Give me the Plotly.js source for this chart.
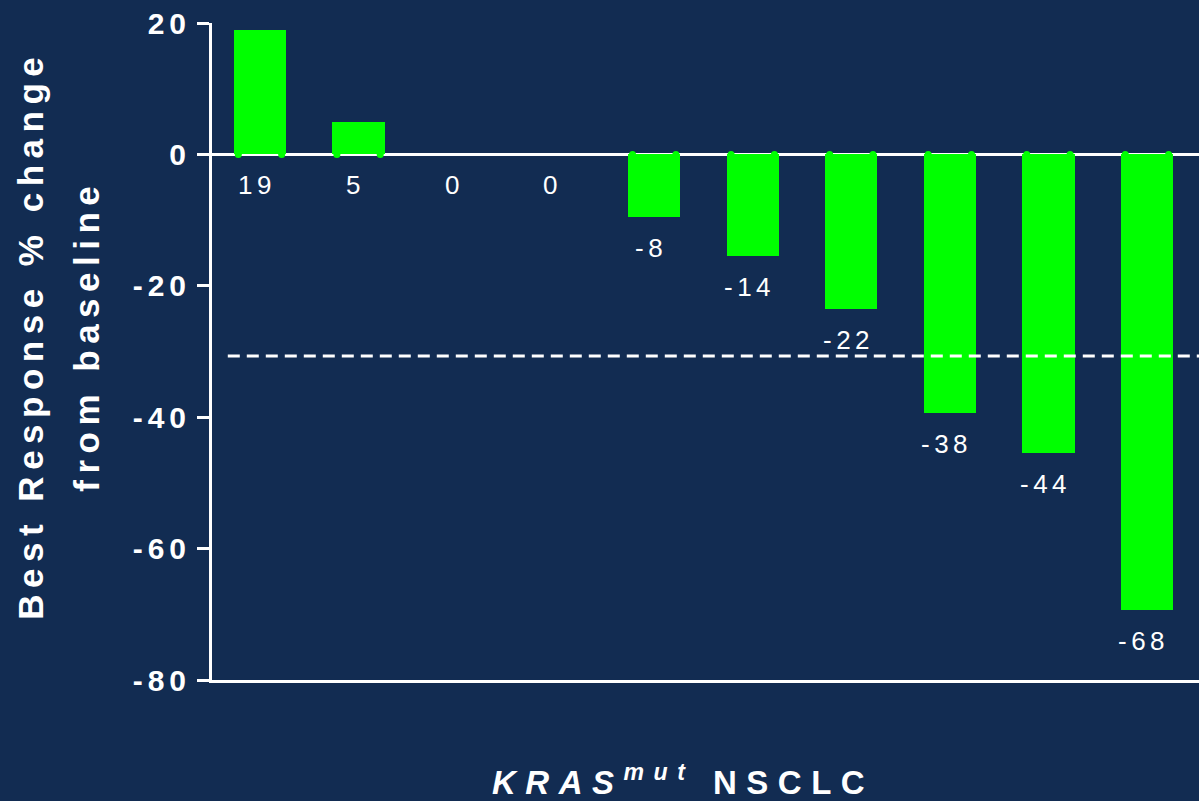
<!DOCTYPE html>
<html>
<head>
<meta charset="utf-8">
<script src="https://cdn.plot.ly/plotly-3.0.1.min.js"></script>
<style>
  html, body { margin: 0; padding: 0; background: #122c52; }
  #chart { width: 1199px; height: 801px; }
  text[style*="font-size: 26px"] { letter-spacing: 4.5px; }
  text[style*="font-size: 35px"] { letter-spacing: 6.5px; }
  text[style*="font-size: 33px"] { letter-spacing: 9.5px; }
  .ytick text { letter-spacing: 5px; }
</style>
</head>
<body>
<div id="chart"></div>
<script>
// Patients (bar positions along the x axis)
const patients = [1, 2, 3, 4, 5, 6, 7, 8, 9, 10];
// Bar lengths as drawn in the picture (% change)
const barValues = [19, 5, 0, 0, -9.5, -15.5, -23.6, -39.4, -45.5, -69.4];
// Printed value labels
const valueLabels = ['19', '5', '0', '0', '-8', '-14', '-22', '-38', '-44', '-68'];
// Y tick values
const yTicks = [20, 0, -20, -40, -60, -80];
const yTickLabels = ['20', '0', '-20', '-40', '-60', '-80'];
// Response threshold line
const threshold = -30.7;
// Titles
const yTitleLines = ['Best Response % change', 'from baseline'];
const xTitle = '<i>KRAS<sup>mut</sup></i> NSCLC';

const green = '#00ff00';
const barWidth = 0.53;

const dotX = [], dotY = [];
patients.forEach((p, i) => {
  if (barValues[i] !== 0) {
    dotX.push(p - 0.22, p + 0.22);
    dotY.push(0, 0);
  }
});

const traces = [
  {
    type: 'bar',
    x: patients,
    y: barValues,
    width: barWidth,
    marker: { color: green, line: { width: 0 } },
    hoverinfo: 'skip'
  },
  {
    type: 'scatter',
    mode: 'markers',
    x: dotX,
    y: dotY,
    marker: { color: green, size: 7 },
    hoverinfo: 'skip',
    cliponaxis: false
  }
];

const labelFont = { family: 'Liberation Sans, Arial, sans-serif', size: 26, color: '#ffffff' };
const titleFont = { family: 'Liberation Sans, Arial, sans-serif', size: 35, color: '#ffffff', weight: 'bold' };

const annotations = patients.map((p, i) => ({
  x: p, y: Math.min(barValues[i], 0),
  xref: 'x', yref: 'y',
  text: valueLabels[i],
  showarrow: false,
  xanchor: 'center', yanchor: 'middle',
  xshift: -3, yshift: -31,
  font: labelFont
}));

annotations.push({
  x: 0, y: 0.524, xref: 'paper', yref: 'paper',
  text: yTitleLines[0], showarrow: false, textangle: -90,
  xanchor: 'center', yanchor: 'middle', xshift: -181,
  font: titleFont
});
annotations.push({
  x: 0, y: 0.524, xref: 'paper', yref: 'paper',
  text: yTitleLines[1], showarrow: false, textangle: -90,
  xanchor: 'center', yanchor: 'middle', xshift: -125,
  font: titleFont
});
annotations.push({
  x: 0.477, y: -0.152, xref: 'paper', yref: 'paper',
  text: xTitle, showarrow: false,
  xanchor: 'center', yanchor: 'middle',
  font: { family: 'Liberation Sans, Arial, sans-serif', size: 33, color: '#ffffff', weight: 'bold' }
});

const layout = {
  width: 1199, height: 801,
  margin: { l: 212, r: 0, t: 23, b: 121, pad: 0 },
  paper_bgcolor: '#122c52',
  plot_bgcolor: '#122c52',
  showlegend: false,
  bargap: 0,
  xaxis: {
    range: [0.513, 10.528],
    showticklabels: false, ticks: '',
    showgrid: false, zeroline: false,
    showline: true, linecolor: '#ffffff', linewidth: 3,
    layer: 'above traces'
  },
  yaxis: {
    range: [-80, 20],
    tickvals: yTicks, ticktext: yTickLabels,
    ticks: 'outside', ticklen: 12, tickwidth: 3, tickcolor: '#ffffff',
    tickfont: { family: 'Liberation Sans, Arial, sans-serif', size: 30, color: '#ffffff', weight: 'bold' },
    showgrid: false,
    zeroline: true, zerolinecolor: '#ffffff', zerolinewidth: 3,
    showline: true, linecolor: '#ffffff', linewidth: 3,
    layer: 'above traces'
  },
  shapes: [{
    type: 'line', xref: 'paper', yref: 'y',
    x0: 0.016, x1: 1, y0: threshold, y1: threshold,
    line: { color: '#ffffff', width: 3, dash: '12px,7px' },
    layer: 'above'
  }],
  annotations: annotations
};

Plotly.newPlot('chart', traces, layout, { staticPlot: true, displayModeBar: false });
</script>
</body>
</html>
